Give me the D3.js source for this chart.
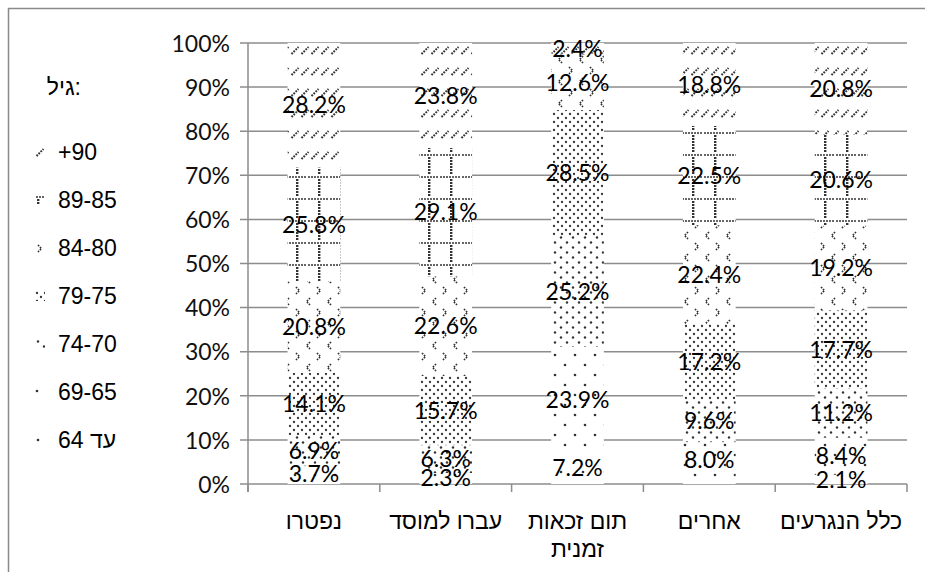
<!DOCTYPE html>
<html lang="he">
<head>
<meta charset="utf-8">
<script src="https://cdn.jsdelivr.net/npm/d3@7/dist/d3.min.js"></script>
<style>
  html, body { margin: 0; padding: 0; background: #fff; }
  svg { display: block; }
  .tick-label { font-family: Lato, "Liberation Sans", sans-serif; font-size: 23px; fill: #111; }
  .data-label { font-family: Lato, "Liberation Sans", sans-serif; font-size: 23px; fill: #000; }
  .cat-label, .legend-label { font-family: "Liberation Sans", Arial, sans-serif; font-size: 23px; fill: #000; }
</style>
</head>
<body>
<svg id="chart" width="925" height="572"></svg>
<script>
// Categories, left to right
const categories = ["נפטרו", "עברו למוסד", "תום זכאות זמנית", "אחרים", "כלל הנגרעים"];
// Axis labels for the categories (multi-line where wrapped)
const categoryLines = [["נפטרו"], ["עברו למוסד"], ["תום זכאות", "זמנית"], ["אחרים"], ["כלל הנגרעים"]];

// Age groups, bottom of the stack to top
const ageGroups = ["עד 64", "69-65", "74-70", "79-75", "84-80", "89-85", "+90"];

// Share (%) of each age group per category
const age64    = [0.5, 0.2, 7.2, 1.5, 2.1];
const age65_69 = [3.7, 2.3, 23.9, 8.0, 8.4];
const age70_74 = [6.9, 6.3, 25.2, 9.6, 11.2];
const age75_79 = [14.1, 15.7, 28.5, 17.2, 17.7];
const age80_84 = [20.8, 22.6, 12.6, 22.4, 19.2];
const age85_89 = [25.8, 29.1, 0.2, 22.5, 20.6];
const age90    = [28.2, 23.8, 2.4, 18.8, 20.8];
const seriesValues = [age64, age65_69, age70_74, age75_79, age80_84, age85_89, age90];

const yTicks = [0, 10, 20, 30, 40, 50, 60, 70, 80, 90, 100];
const legendTitle = "גיל:";

// ---- table for d3.stack
const rows = categories.map((c, i) => {
  const r = { category: c };
  ageGroups.forEach((g, k) => { r[g] = seriesValues[k][i]; });
  return r;
});
const stacked = d3.stack().keys(ageGroups)(rows);

const svg = d3.select("#chart");
const defs = svg.append("defs");
const ink = "#333";

// ---- fill patterns, one per age group; "prefix" lets the legend get its own tile offsets
function tile(id, w, h, ox, oy) {
  const p = defs.append("pattern").attr("id", id).attr("patternUnits", "userSpaceOnUse")
    .attr("x", ox).attr("y", oy).attr("width", w).attr("height", h);
  p.append("rect").attr("width", w).attr("height", h).attr("fill", "#fff");
  return p;
}
function dots(p, pts, r) {
  pts.forEach(([x, y]) => p.append("circle").attr("cx", x).attr("cy", y).attr("r", r).attr("fill", ink));
}
function buildPatterns(prefix, offsets) {
  const o = i => offsets[i] || [0, 0];
  dots(tile(prefix + 0, 22, 28, ...o(0)), [[11, 24]], 1.3);
  dots(tile(prefix + 1, 20, 20, ...o(1)), [[5, 5], [15, 15]], 1.3);
  dots(tile(prefix + 2, 12, 10, ...o(2)), [[3, 2.5], [9, 7.5]], 1.2);
  dots(tile(prefix + 3, 8, 8, ...o(3)), [[2, 2], [6, 6]], 1.15);

  // alternating rows of ">" and "<"
  const p4 = tile(prefix + 4, 21, 22, ...o(4));
  ["M2,1 L5.5,4.5 L2,8", "M16,12 L12.5,15.5 L16,19"].forEach(d =>
    p4.append("path").attr("d", d).attr("stroke", ink).attr("stroke-width", 1.7)
      .attr("stroke-dasharray", "1.6 1.2").attr("fill", "none"));

  // dotted grid
  const p5 = tile(prefix + 5, 22, 22, ...o(5));
  for (let x = 1; x < 22; x += 3) p5.append("circle").attr("cx", x).attr("cy", 1).attr("r", 1).attr("fill", ink);
  for (let y = 4; y < 22; y += 3) p5.append("rect").attr("x", 10).attr("y", y - 1).attr("width", 2.4).attr("height", 2).attr("fill", ink);

  // short upward diagonal dashes
  const p6 = tile(prefix + 6, 10, 21, ...o(6));
  p6.append("path").attr("d", "M1.5,12 L8.5,5").attr("stroke", ink).attr("stroke-width", 2)
    .attr("stroke-dasharray", "1.8 1.1").attr("fill", "none");
}
buildPatterns("pat", []);
// legend swatches: shift tiles so each swatch shows its motif
buildPatterns("lpat", [[-8, -19], [-3, -1], [0, 0], [0, 0], [1, 1], [-8, 1], [0, -3]]);

// ---- scales
const x = d3.scaleBand().domain(categories).range([248, 907]).paddingInner(0.6).paddingOuter(0.3);
const y = d3.scaleLinear().domain([0, 100]).range([484, 43]);

// outer frame
svg.append("rect").attr("x", 8.5).attr("y", 8.5).attr("width", 940).attr("height", 600)
  .attr("fill", "none").attr("stroke", "#8a8a8a").attr("stroke-width", 1.5);

// gridlines
const gridColor = "#8c8c8c";
svg.append("g").selectAll("line").data(yTicks).join("line")
  .attr("x1", 240).attr("x2", 907)
  .attr("y1", d => y(d)).attr("y2", d => y(d))
  .attr("stroke", gridColor).attr("stroke-width", 1.5);

// y axis
const yAxis = svg.append("g").attr("transform", "translate(248,0)")
  .call(d3.axisLeft(y).tickValues(yTicks).tickFormat(d => d + "%").tickSize(0).tickPadding(18));
yAxis.select(".domain").attr("stroke", gridColor).attr("stroke-width", 1.5).attr("d", `M0,${y(100)}V${y(0) + 8}`);
yAxis.selectAll("text").attr("class", "tick-label").attr("font-family", null).attr("font-size", null)
  .attr("dy", "0.36em");

// category tick marks at band boundaries
const step = x.step();
const bounds = d3.range(categories.length + 1).map(i => x.range()[0] + i * step);
svg.append("g").selectAll("line").data(bounds).join("line")
  .attr("x1", d => d).attr("x2", d => d).attr("y1", y(0)).attr("y2", y(0) + 8)
  .attr("stroke", gridColor).attr("stroke-width", 1.5);

// bars
const layer = svg.append("g").selectAll("g").data(stacked).join("g")
  .attr("fill", (d, i) => `url(#pat${i})`);
layer.selectAll("rect").data(d => d).join("rect")
  .attr("x", d => x(d.data.category))
  .attr("width", x.bandwidth())
  .attr("y", d => y(d[1]))
  .attr("height", d => y(d[0]) - y(d[1]));

// data labels (values below 2% are left unlabelled)
const labels = [];
stacked.forEach(s => s.forEach(d => {
  const v = d[1] - d[0];
  if (v >= 2) labels.push({ cx: x(d.data.category) + x.bandwidth() / 2, cy: y((d[0] + d[1]) / 2), v });
}));
svg.append("g").selectAll("text").data(labels).join("text")
  .attr("class", "data-label")
  .attr("x", d => d.cx).attr("y", d => d.cy)
  .attr("text-anchor", "middle").attr("dy", "0.36em")
  .text(d => d3.format(".1f")(d.v) + "%");

// category labels
const catG = svg.append("g").selectAll("text").data(categories).join("text")
  .attr("class", "cat-label").attr("text-anchor", "middle")
  .attr("x", d => x(d) + x.bandwidth() / 2).attr("y", 529);
catG.each(function (d, i) {
  d3.select(this).selectAll("tspan").data(categoryLines[i]).join("tspan")
    .attr("x", x(d) + x.bandwidth() / 2)
    .attr("dy", (t, j) => j === 0 ? 0 : 28)
    .text(t => t);
});

// legend
svg.append("text").attr("class", "legend-label").attr("x", 81).attr("y", 95)
  .attr("text-anchor", "end").attr("direction", "ltr").text(legendTitle);
const legendOrder = ageGroups.slice().reverse();
const legendItem = svg.append("g").selectAll("g").data(legendOrder).join("g")
  .attr("transform", (d, i) => `translate(0,${152 + i * 48})`);
legendItem.append("g").attr("transform", "translate(35,-5)")
  .append("rect").attr("width", 10).attr("height", 10)
  .attr("fill", d => `url(#lpat${ageGroups.indexOf(d)})`);
legendItem.append("text").attr("class", "legend-label")
  .attr("x", 58).attr("y", 8).attr("direction", "ltr").attr("unicode-bidi", "plaintext")
  .text(d => d);
</script>
</body>
</html>
